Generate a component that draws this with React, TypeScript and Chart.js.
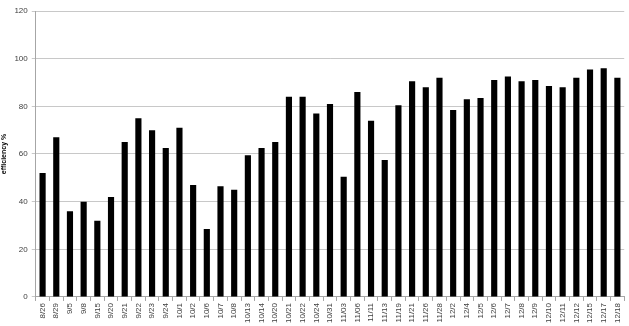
import React, { useEffect, useRef } from "react";
import { Chart, registerables } from "chart.js";

Chart.register(...registerables);

const categories = [
  "8/26", "8/29", "9/5", "9/8", "9/15", "9/20", "9/21", "9/22", "9/23", "9/24",
  "10/1", "10/2", "10/6", "10/7", "10/8", "10/13", "10/14", "10/20", "10/21", "10/22",
  "10/24", "10/31", "11/03", "11/06", "11/11", "11/13", "11/19", "11/21", "11/26", "11/28",
  "12/2", "12/4", "12/5", "12/6", "12/7", "12/8", "12/9", "12/10", "12/11", "12/12",
  "12/15", "12/17", "12/18",
];

const efficiency = [
  52, 67, 36, 40, 32, 42, 65, 75, 70, 62.5,
  71, 47, 28.5, 46.5, 45, 59.5, 62.5, 65, 84, 84,
  77, 81, 50.5, 86, 74, 57.5, 80.5, 90.5, 88, 92,
  78.5, 83, 83.5, 91, 92.5, 90.5, 91, 88.5, 88, 92,
  95.5, 96, 92,
];

const yTitle = "efficiency %";

export default function App() {
  const ref = useRef<HTMLCanvasElement | null>(null);
  useEffect(() => {
    if (!ref.current) return;
    const chart = new Chart(ref.current, {
      type: "bar",
      data: {
        labels: categories,
        datasets: [
          {
            data: efficiency,
            backgroundColor: "#000000",
            borderWidth: 0,
            barPercentage: 0.45,
            categoryPercentage: 1,
          },
        ],
      },
      options: {
        animation: false,
        responsive: false,
        maintainAspectRatio: false,
        layout: { padding: { top: 11, right: 1, left: 0, bottom: 1 } },
        plugins: { legend: { display: false }, tooltip: { enabled: false } },
        scales: {
          x: {
            grid: {
              display: true,
              drawOnChartArea: false,
              drawTicks: true,
              tickLength: 4,
              color: "#a6a6a6",
              offset: true,
            },
            border: { color: "#a6a6a6" },
            ticks: {
              maxRotation: 90,
              minRotation: 90,
              autoSkip: false,
              color: "#404040",
              padding: 2,
              font: { family: "Liberation Sans", size: 8 },
            },
          },
          y: {
            min: 0,
            max: 120,
            ticks: {
              stepSize: 20,
              color: "#404040",
              padding: 4,
              font: { family: "Liberation Sans", size: 8 },
            },
            grid: { color: "#c8c8c8", tickLength: 4, lineWidth: 1 },
            border: { color: "#a6a6a6" },
            title: {
              display: true,
              text: yTitle,
              color: "#000000",
              padding: { top: 0, bottom: 2 },
              font: { family: "Liberation Sans", size: 7, weight: "bold" },
            },
          },
        },
      },
    });
    return () => chart.destroy();
  }, []);
  return (
    <div style={{ position: "absolute", left: 0, top: 0, width: 629, height: 326 }}>
      <canvas ref={ref} width={629} height={326} style={{ display: "block" }} />
    </div>
  );
}
